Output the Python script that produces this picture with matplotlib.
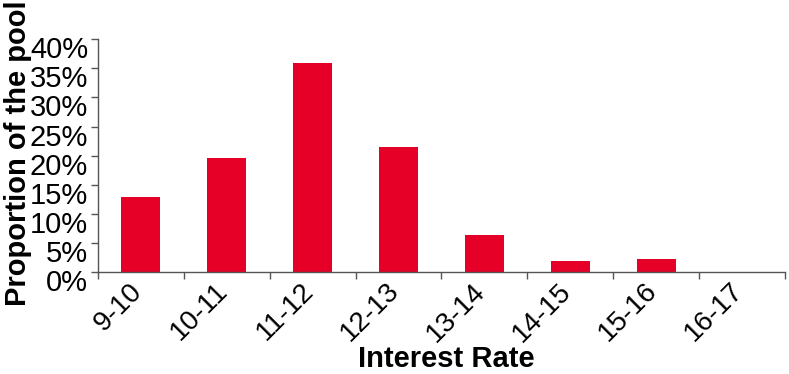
import numpy as np
import matplotlib.pyplot as plt
import matplotlib.transforms as mtransforms
from matplotlib.ticker import FixedLocator, NullFormatter

plt.rcParams['font.family'] = ['Liberation Sans', 'DejaVu Sans']

# share of the pool by interest rate bucket (%)
rate_bins = ['9-10', '10-11', '11-12', '12-13', '13-14', '14-15', '15-16', '16-17']
pool_share = [12.8, 19.6, 36.0, 21.5, 6.4, 1.9, 2.2, 0.0]
y_ticks = [0, 5, 10, 15, 20, 25, 30, 35, 40]

fig = plt.figure(figsize=(7.89, 3.74), dpi=100)
ax = fig.add_axes([0.124, 0.273, 0.871, 0.622])

x = np.arange(len(rate_bins))
ax.bar(x, pool_share, width=0.45, color='#E60028', zorder=2)

ax.set_xlim(-0.5, len(rate_bins) - 0.5)
ax.set_ylim(0, 40)

# boundary ticks between buckets, labels sit at the bucket centres
ax.xaxis.set_major_locator(FixedLocator(np.arange(len(rate_bins) + 1) - 0.5))
ax.xaxis.set_major_formatter(NullFormatter())
ax.xaxis.set_minor_locator(FixedLocator(x))
ax.set_xticklabels(rate_bins, minor=True, rotation=45, ha='right', va='center',
                   rotation_mode='anchor', fontsize=20)
ax.tick_params(axis='x', which='minor', length=0, pad=11)
ax.tick_params(axis='x', which='major', length=5, width=1, color='#555555')
xshift = mtransforms.ScaledTranslation(-3 / 100, 0, fig.dpi_scale_trans)
for lbl in ax.get_xticklabels(minor=True):
    lbl.set_transform(lbl.get_transform() + xshift)

ax.set_yticks(y_ticks)
ax.set_yticklabels([f'{v}%' for v in y_ticks], fontsize=21)
ax.tick_params(axis='y', length=5, width=1, color='#555555', pad=2)
yshift = mtransforms.ScaledTranslation(0, -8 / 100, fig.dpi_scale_trans)
for lbl in ax.get_yticklabels():
    lbl.set_transform(lbl.get_transform() + yshift)

for side in ['top', 'right']:
    ax.spines[side].set_visible(False)
for side in ['left', 'bottom']:
    ax.spines[side].set_color('#555555')
    ax.spines[side].set_linewidth(1)

ax.set_ylabel('Proportion of the pool', fontsize=21, fontweight='bold',
              ha='center', va='center')
ax.yaxis.set_label_coords(-0.116, 0.51)
ax.set_xlabel('Interest Rate', fontsize=21, fontweight='bold', va='center')
ax.xaxis.set_label_coords(0.507, -0.375)

fig.savefig('out.png', dpi=100)
